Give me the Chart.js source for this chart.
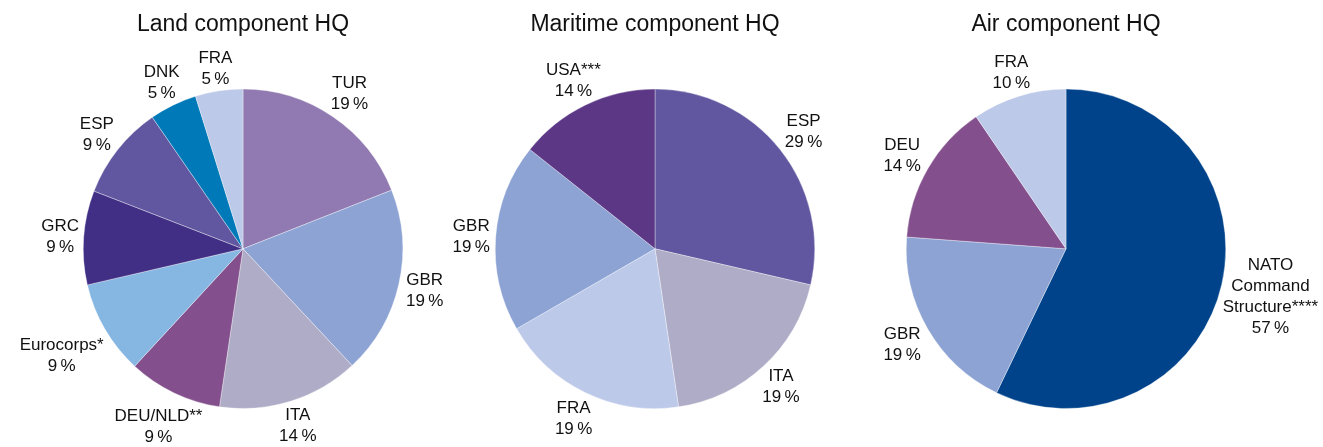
<!DOCTYPE html>
<html>
<head>
<meta charset="utf-8">
<script src="https://cdn.jsdelivr.net/npm/chart.js@4.4.0/dist/chart.umd.min.js"></script>
<style>
  html, body { margin: 0; padding: 0; background: #fff; }
  #wrap { position: relative; width: 1323px; height: 447px; }
  .box { position: absolute; top: 0; height: 447px; }
</style>
</head>
<body>
<div id="wrap">
  <div class="box" style="left:0; width:470px"><canvas id="land"></canvas></div>
  <div class="box" style="left:420px; width:470px"><canvas id="maritime"></canvas></div>
  <div class="box" style="left:860px; width:463px"><canvas id="air"></canvas></div>
</div>
<script>
// shares (percent)
const landLabels = ['TUR', 'GBR', 'ITA', 'DEU/NLD**', 'Eurocorps*', 'GRC', 'ESP', 'DNK', 'FRA'];
const landValues = [19.0, 19.0, 14.3, 9.5, 9.5, 9.5, 9.5, 4.8, 4.8];
const landPct = ['19', '19', '14', '9', '9', '9', '9', '5', '5'];

const maritimeLabels = ['ESP', 'ITA', 'FRA', 'GBR', 'USA***'];
const maritimeValues = [28.6, 19.0, 19.0, 19.0, 14.3];
const maritimePct = ['29', '19', '19', '19', '14'];

const airLabels = ['NATO\nCommand\nStructure****', 'GBR', 'DEU', 'FRA'];
const airValues = [57.1, 19.0, 14.3, 9.5];
const airPct = ['57', '19', '14', '10'];

const colorOf = {
  TUR: '#917ab1', GBR: '#8ca3d4', ITA: '#aeacc6', DEU_NLD: '#83508d', EUROCORPS: '#86b6e2',
  GRC: '#412e85', ESP: '#6157a0', DNK: '#0079b8', FRA: '#bdc9e9', USA: '#5c3786',
  NATO: '#00438a', DEU: '#83508d'
};
const landColors = [colorOf.TUR, colorOf.GBR, colorOf.ITA, colorOf.DEU_NLD, colorOf.EUROCORPS,
                    colorOf.GRC, colorOf.ESP, colorOf.DNK, colorOf.FRA];
const maritimeColors = [colorOf.ESP, colorOf.ITA, colorOf.FRA, colorOf.GBR, colorOf.USA];
const airColors = [colorOf.NATO, colorOf.GBR, colorOf.DEU, colorOf.FRA];

const FONT = '"Liberation Sans", Arial, Helvetica, sans-serif';

// labels outside the pie, pushed out along the middle of each slice
const outsideLabels = {
  id: 'outsideLabels',
  afterDatasetsDraw(chart) {
    const ctx = chart.ctx;
    const meta = chart.getDatasetMeta(0);
    const pct = chart.data.datasets[0].pctText;
    const size = 17, lh = 21, capH = size * 0.716, gap = 5;
    ctx.save();
    ctx.font = size + 'px ' + FONT;
    ctx.fillStyle = '#111';
    ctx.textAlign = 'center';
    ctx.textBaseline = 'alphabetic';
    meta.data.forEach((arc, i) => {
      const lines = chart.data.labels[i].split('\n').concat(pct[i] + '\u2009%');
      const widths = lines.map(l => ctx.measureText(l).width);
      const mid = (arc.startAngle + arc.endAngle) / 2;
      const c = Math.cos(mid), s = Math.sin(mid);
      const R = arc.outerRadius;
      const totalH = lh * (lines.length - 1);
      let d = R, cx = 0, cy = 0;
      for (; d < R + 200; d += 0.5) {
        cx = arc.x + c * d; cy = arc.y + s * d;
        let ok = true;
        for (let j = 0; j < lines.length; j++) {
          const ly = cy - totalH / 2 + j * lh;
          const x0 = cx - widths[j] / 2, x1 = cx + widths[j] / 2;
          const y0 = ly - capH / 2, y1 = ly + capH / 2;
          const nx = Math.max(x0, Math.min(arc.x, x1));
          const ny = Math.max(y0, Math.min(arc.y, y1));
          if (Math.hypot(nx - arc.x, ny - arc.y) < R + gap) { ok = false; break; }
        }
        if (ok) break;
      }
      lines.forEach((l, j) => {
        const ly = cy - totalH / 2 + j * lh;
        ctx.fillText(l, cx, ly + capH / 2);
      });
    });
    ctx.restore();
  }
};

const makePie = (id, title, labels, values, pctText, colors, padLeft, padRight) => {
  return new Chart(document.getElementById(id), {
    type: 'pie',
    data: {
      labels: labels,
      datasets: [{
        data: values,
        pctText: pctText,
        backgroundColor: colors,
        borderColor: 'rgba(255,255,255,0.7)',
        borderWidth: 0.5,
        hoverOffset: 0
      }]
    },
    options: {
      responsive: true,
      maintainAspectRatio: false,
      animation: false,
      layout: { padding: { top: 0, bottom: 38, left: padLeft, right: padRight } },
      plugins: {
        title: {
          display: true,
          text: title,
          color: '#111',
          font: { family: FONT, size: 23, weight: 'normal' },
          padding: { top: 11, bottom: 50 }
        },
        legend: { display: false },
        tooltip: { enabled: false }
      }
    },
    plugins: [outsideLabels]
  });
};

makePie('land', 'Land component HQ', landLabels, landValues, landPct, landColors, 83, 67);
makePie('maritime', 'Maritime component HQ', maritimeLabels, maritimeValues, maritimePct, maritimeColors, 75, 75);
makePie('air', 'Air component HQ', airLabels, airValues, airPct, airColors, 46, 97);
</script>
</body>
</html>
